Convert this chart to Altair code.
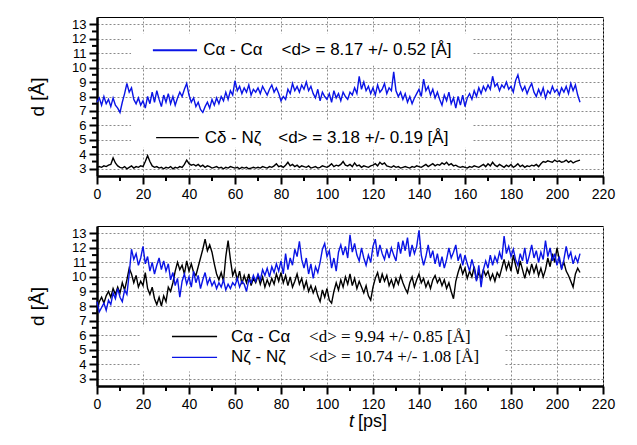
import altair as alt
import pandas as pd

# ---------------- data (1 ps steps) ----------------
t = list(range(211))

top_ca = [7.6, 7.9, 7.4, 8.0, 7.5, 7.8, 7.3, 7.9, 7.4, 7.2,
          6.9, 7.6, 8.2, 8.9, 8.3, 8.6, 7.8, 7.5, 7.9, 7.4,
          7.7, 7.2, 8.0, 7.5, 8.3, 7.6, 8.4, 7.8, 7.3, 8.1,
          7.6, 8.2, 7.5, 8.0, 7.4, 7.9, 8.3, 8.0, 8.5, 8.9,
          8.1, 7.6, 7.9, 7.3, 7.6, 7.1, 6.9, 7.3, 7.6, 7.2,
          7.8, 7.4, 7.9, 7.5, 8.0, 7.7, 8.3, 7.8, 8.4, 8.1,
          9.1, 8.4, 8.7, 8.2, 8.6, 8.3, 8.8, 8.1, 8.5, 8.3,
          8.6, 8.2, 8.7, 8.4, 8.1, 8.5, 8.8, 8.3, 8.6, 8.2,
          7.7, 8.0, 7.8, 8.5, 8.2, 8.9, 8.4, 8.7, 8.3, 8.8,
          8.5, 9.0, 8.4, 8.7, 8.2, 7.9, 8.5, 7.7, 8.3, 8.0,
          7.8, 8.2, 7.6, 8.4, 7.9, 8.2, 7.7, 8.3, 8.0, 7.8,
          8.3, 8.1, 8.6, 8.2, 9.4, 8.5, 9.0, 8.4, 8.7, 8.2,
          8.6, 8.1, 8.8, 8.3, 8.5, 8.9, 8.2, 8.6, 8.4, 9.7,
          8.4, 8.0, 8.3, 7.8, 8.2, 7.6, 8.0, 7.5, 7.9, 8.2,
          8.5, 8.0, 9.2, 8.4, 8.7, 8.1, 8.5, 7.9, 8.3, 7.8,
          7.4, 8.1, 7.7, 8.3, 7.5, 7.9, 7.2, 8.0, 7.4, 8.1,
          7.3, 7.9, 8.2, 7.8, 8.4, 8.0, 8.6, 8.2, 8.7, 8.4,
          8.8, 8.5, 9.4, 8.7, 8.9, 8.4, 8.8, 8.6, 9.0, 8.5,
          8.7, 8.3, 9.1, 9.5, 8.8, 8.4, 8.7, 8.2, 8.6, 8.9,
          8.3, 8.0, 8.5, 8.1, 8.6, 7.9, 8.4, 8.2, 8.7, 8.3,
          8.5, 8.1, 8.6, 8.3, 8.7, 8.2, 8.9, 8.4, 8.8, 8.1,
          7.6]

top_cd = [3.1, 3.15, 3.1, 3.2, 3.15, 3.25, 3.3, 3.75, 3.4, 3.2,
          3.1, 3.05, 3.15, 3.0, 3.1, 3.2, 3.05, 3.15, 3.1, 3.2,
          3.15, 3.5, 3.9, 3.5, 3.2, 3.1, 3.15, 3.05, 3.1, 3.0,
          3.1, 3.05, 3.15, 3.0, 3.1, 3.05, 3.15, 3.1, 3.3, 3.6,
          3.35, 3.25, 3.3, 3.2, 3.3, 3.15, 3.25, 3.1, 3.2, 3.15,
          3.05, 3.1, 3.15, 3.05, 3.1, 3.0, 3.1, 3.05, 3.15, 3.1,
          3.05, 3.1, 3.0, 3.1, 3.05, 3.1, 3.0, 3.05, 3.1, 3.05,
          3.1, 3.05, 3.15, 3.1, 3.05, 3.15, 3.1, 3.2, 3.35, 3.15,
          3.2, 3.1, 3.25, 3.45, 3.2, 3.3, 3.15, 3.25, 3.1, 3.2,
          3.15, 3.1, 3.2, 3.05, 3.1, 3.15, 3.05, 3.1, 3.2, 3.15,
          3.1, 3.2, 3.35, 3.15, 3.25, 3.2, 3.3, 3.5, 3.25, 3.2,
          3.3, 3.15, 3.4, 3.2, 3.25, 3.1, 3.2, 3.15, 3.1, 3.2,
          3.25, 3.35, 3.2, 3.45, 3.3, 3.4, 3.2, 3.15, 3.1, 3.2,
          3.1, 3.15, 3.05, 3.1, 3.15, 3.1, 3.05, 3.15, 3.1, 3.2,
          3.15, 3.1, 3.2, 3.3, 3.15, 3.25, 3.35, 3.2, 3.3, 3.25,
          3.4, 3.3, 3.45, 3.25, 3.35, 3.2, 3.25, 3.15, 3.1, 3.15,
          3.1, 3.05, 3.15, 3.1, 3.2, 3.15, 3.1, 3.2, 3.3, 3.15,
          3.35, 3.2, 3.45, 3.25, 3.15, 3.3, 3.2, 3.1, 3.25, 3.15,
          3.3, 3.1, 3.2, 3.35, 3.15, 3.25, 3.1, 3.2, 3.15, 3.25,
          3.2, 3.3, 3.15, 3.35, 3.5, 3.45, 3.55, 3.5, 3.45, 3.6,
          3.5, 3.55, 3.45, 3.5, 3.6, 3.45, 3.55, 3.4, 3.5, 3.55,
          3.6]

bot_ca = [7.6, 8.3, 8.6, 8.2, 8.7, 9.0, 8.6, 9.2, 8.8, 9.3,
          8.9, 9.6, 9.1, 9.8, 10.6, 10.2, 9.6, 10.1, 9.3, 9.7,
          9.4, 10.3, 9.2, 8.8, 9.3, 8.5, 8.1, 8.6, 8.0, 8.7,
          8.3, 9.3, 9.0, 9.6, 10.4, 11.0, 10.5, 10.8, 10.2, 11.1,
          10.4, 10.9, 10.3, 10.1, 10.7, 11.3, 11.9, 12.6, 11.8, 12.2,
          11.7, 10.9, 10.2, 9.8, 10.3, 9.7, 11.4, 12.5, 11.2, 10.1,
          10.5, 9.8, 10.4, 9.5, 10.1, 9.6, 10.2, 9.4, 9.9, 9.6,
          10.1, 9.5, 10.0, 9.3, 9.8, 9.4, 9.9, 9.5, 10.2, 9.7,
          10.3, 9.6, 10.1, 9.4, 10.0, 9.3, 9.7, 10.2, 9.5, 9.9,
          9.2, 9.7, 9.0, 9.4, 8.9, 9.3, 8.7, 8.3, 9.1, 8.6,
          9.2, 8.4, 8.2, 9.0, 9.6, 9.1, 9.8, 9.3, 10.0, 9.5,
          10.2, 9.4, 9.9, 9.2, 9.7, 9.3, 8.9, 9.4, 8.7, 8.4,
          9.3, 9.9, 10.3, 9.6, 10.2, 9.7, 10.1, 9.4, 9.8, 9.3,
          9.9, 9.5, 10.1, 9.6, 9.2, 8.9, 9.6, 10.0, 9.3, 9.8,
          10.2, 9.6, 9.9, 9.3, 9.7, 9.2, 9.8, 10.1, 9.6, 9.9,
          9.4, 9.8, 9.2, 9.6, 9.0, 8.5, 9.7, 10.3, 10.8, 10.2,
          10.6, 9.9, 10.4, 10.0, 10.7, 9.8, 10.3, 9.9, 10.5, 10.1,
          10.4, 9.8, 10.2, 9.7, 10.3, 10.0, 10.6, 11.2, 10.5, 11.0,
          10.4, 11.5, 10.8, 10.2, 11.1, 10.5, 9.9, 10.6, 10.2, 10.9,
          10.3, 10.8, 10.1, 10.6, 10.0, 10.5, 11.3, 10.7, 11.6, 11.0,
          12.0, 11.2, 10.6, 11.0, 10.4, 10.1, 9.7, 9.3, 10.2, 10.6,
          10.3]

bot_nz = [8.3, 7.6, 7.9, 8.2, 7.7, 8.4, 8.1, 8.9, 8.5, 9.2,
          8.6, 8.3, 9.1, 8.8, 10.2, 11.9, 11.2, 11.6, 10.8, 11.3,
          12.1, 10.9, 11.4, 10.4, 11.0, 10.2, 10.8, 11.3, 10.5, 11.1,
          10.4, 10.9, 9.8, 10.3, 9.4, 9.9, 8.6, 9.7, 10.2, 9.5,
          10.0, 9.3, 10.4, 9.6, 10.1, 9.2, 9.8, 10.3, 9.5, 9.9,
          9.4, 9.7, 9.2, 9.6, 9.3, 9.8, 9.1, 9.5, 9.2, 9.6,
          9.4, 9.9, 9.3, 9.7, 9.5, 9.0, 9.8, 9.6, 10.1, 9.7,
          10.2, 9.8, 10.5, 10.1, 10.6, 10.0, 10.7, 10.3, 10.9, 10.4,
          11.1, 10.2, 11.6, 10.5, 11.3, 10.8, 11.9, 11.4, 12.45, 11.2,
          10.6, 11.3, 10.2, 10.9, 9.9, 10.7, 10.3, 11.0, 11.9, 12.3,
          11.4, 11.8, 10.6, 11.3, 10.4, 11.7, 12.2, 11.5, 12.1, 11.3,
          12.9, 11.7, 12.3, 11.5, 11.1, 12.0, 11.3, 10.8, 11.5, 11.0,
          12.1, 12.6, 11.4, 12.2, 11.6, 11.2, 11.9, 11.3, 12.0, 11.5,
          11.1, 12.4, 11.6, 12.5, 11.8, 12.7, 11.4, 12.2, 11.6, 12.1,
          13.2, 11.5, 10.8, 11.4, 12.2, 11.3, 11.8, 10.9, 11.6, 10.7,
          11.4, 10.6, 11.2, 12.0, 11.3, 11.7, 12.2, 11.1, 11.6, 10.8,
          11.5, 10.9, 10.4, 11.2, 10.6, 9.7, 10.8, 9.3, 10.5, 11.1,
          10.6, 11.5, 10.8, 11.4, 11.0, 11.7, 11.2, 12.8, 11.6, 12.1,
          11.4, 11.9, 11.2, 10.8, 11.6, 11.1, 12.0, 10.9, 11.5, 12.2,
          11.3, 11.8, 11.0, 11.7, 11.2, 12.5, 11.4, 12.0, 11.1, 11.6,
          10.8, 11.4, 10.5, 11.2, 12.1, 11.3, 11.7, 10.9, 11.4, 11.0,
          11.6]

x_ticks = list(range(0, 221, 20))
x_minor = list(range(10, 220, 20))
y_ticks = list(range(3, 14))
y_minor = [3.5, 4.5, 5.5, 6.5, 7.5, 8.5, 9.5, 10.5, 11.5, 12.5]

top_labels = ["C\u03b1 - C\u03b1", "C\u03b4 - N\u03b6"]
top_stats = ["<d> = 8.17 +/- 0.52 [\u00c5]", "<d> = 3.18 +/- 0.19 [\u00c5]"]
bot_labels = ["C\u03b1 - C\u03b1", "N\u03b6 - N\u03b6"]
bot_stats = ["<d> = 9.94 +/- 0.85 [\u00c5]", "<d> = 10.74 +/- 1.08 [\u00c5]"]

# ---------------- styling ----------------
BLUE = "#0a14e6"
SANS = "Liberation Sans"
SERIF = "Liberation Serif"
W = 506

xs = alt.Scale(domain=[0, 220], nice=False, zero=False)
ys = alt.Scale(domain=[2.5, 13.5], nice=False, zero=False)

xaxis = alt.Axis(values=x_ticks, title=None, grid=True, gridDash=[2, 2],
                 gridColor="#8a8a8a", gridWidth=1, tickSize=8, tickWidth=2,
                 tickColor="black", domainColor="black", domainWidth=2.5,
                 labelFont=SANS, labelFontSize=14, labelColor="black",
                 labelPadding=3, labelFlush=False)
yaxis = alt.Axis(values=y_ticks, title="d [\u00c5]", grid=True, gridDash=[2, 2],
                 gridColor="#8a8a8a", gridWidth=1, tickSize=8, tickWidth=2,
                 tickColor="black", domainColor="black", domainWidth=2.5,
                 labelFont=SANS, labelFontSize=13, labelColor="black",
                 labelPadding=3, labelOverlap=False, titleFont=SANS, titleFontSize=19,
                 titleFontWeight="normal", titleColor="black", titlePadding=24)


def X(field="t"):
    return alt.X(f"{field}:Q", scale=xs, axis=xaxis)


def Y(field="d"):
    return alt.Y(f"{field}:Q", scale=ys, axis=yaxis)


def series(values, color, width=1.0):
    df = pd.DataFrame({"t": t, "d": values})
    return alt.Chart(df).mark_line(color=color, strokeWidth=width).encode(x=X(), y=Y())


def box(t0, t1, d0, d1):
    df = pd.DataFrame({"t": [t0], "t2": [t1], "d": [d0], "d2": [d1]})
    return alt.Chart(df).mark_rect(color="white").encode(
        x=X(), x2="t2:Q", y=Y(), y2="d2:Q")


def sample(t0, t1, d, color, width):
    df = pd.DataFrame({"t": [t0], "t2": [t1], "d": [d]})
    return alt.Chart(df).mark_rule(color=color, strokeWidth=width).encode(
        x=X(), x2="t2:Q", y=Y())


def label(tpos, d, text, font, size=17):
    df = pd.DataFrame({"t": [tpos], "d": [d], "s": [text]})
    return alt.Chart(df).mark_text(align="left", baseline="middle", font=font,
                                   fontSize=size, color="black").encode(
        x=X(), y=Y(), text="s:N")


def minor_ticks(h):
    ydf = pd.DataFrame({"d": y_minor})
    xdf = pd.DataFrame({"t": x_minor})
    ym = alt.Chart(ydf).mark_rule(color="black", strokeWidth=2).encode(
        y=Y(), x=alt.value(-5), x2=alt.value(0))
    xm = alt.Chart(xdf).mark_rule(color="black", strokeWidth=2).encode(
        x=X(), y=alt.value(h), y2=alt.value(h + 5))
    return [ym, xm]


H1, H2 = 159, 160

top = alt.layer(
    box(14.8, 163.5, 10.15, 12.35),
    box(14.8, 163.5, 4.45, 6.3),
    series(top_ca, BLUE, 1.4),
    series(top_cd, "black", 1.4),
    sample(24.3, 43.5, 11.2, BLUE, 2.2),
    label(46.2, 11.2, top_labels[0], SANS),
    label(80.2, 11.2, top_stats[0], SANS),
    sample(25.7, 44.3, 5.15, "black", 1.2),
    label(46.8, 5.15, top_labels[1], SANS),
    label(78.8, 5.15, top_stats[1], SANS),
    *minor_ticks(H1),
).properties(width=W, height=H1)

title_df = pd.DataFrame({"a": [0]})
t_title = alt.Chart(title_df).mark_text(font=SANS, fontSize=18, fontStyle="italic",
                                        color="black", align="right", baseline="middle").encode(
    x=alt.value(257), y=alt.value(196), text=alt.value("t"))
ps_title = alt.Chart(title_df).mark_text(font=SANS, fontSize=18, color="black",
                                         align="left", baseline="middle").encode(
    x=alt.value(261), y=alt.value(196), text=alt.value("[ps]"))

bottom = alt.layer(
    box(19.1, 177.0, 3.5, 6.6),
    series(bot_ca, "black", 1.4),
    series(bot_nz, BLUE, 1.4),
    sample(32.6, 52.2, 5.9, "black", 1.4),
    label(58.3, 5.9, bot_labels[0], SANS),
    label(92.2, 5.9, bot_stats[0], SERIF),
    sample(32.6, 52.2, 4.47, BLUE, 1.4),
    label(58.3, 4.47, bot_labels[1], SANS),
    label(92.2, 4.47, bot_stats[1], SERIF),
    *minor_ticks(H2),
    t_title,
    ps_title,
).properties(width=W, height=H2)

chart = alt.vconcat(top, bottom, spacing=23).configure(
    padding={"left": 20, "top": 8, "right": 5, "bottom": 5},
    background="white",
).configure_view(stroke="black", strokeWidth=1)

chart.save("out.html", embed_options={"renderer": "svg", "actions": False})
